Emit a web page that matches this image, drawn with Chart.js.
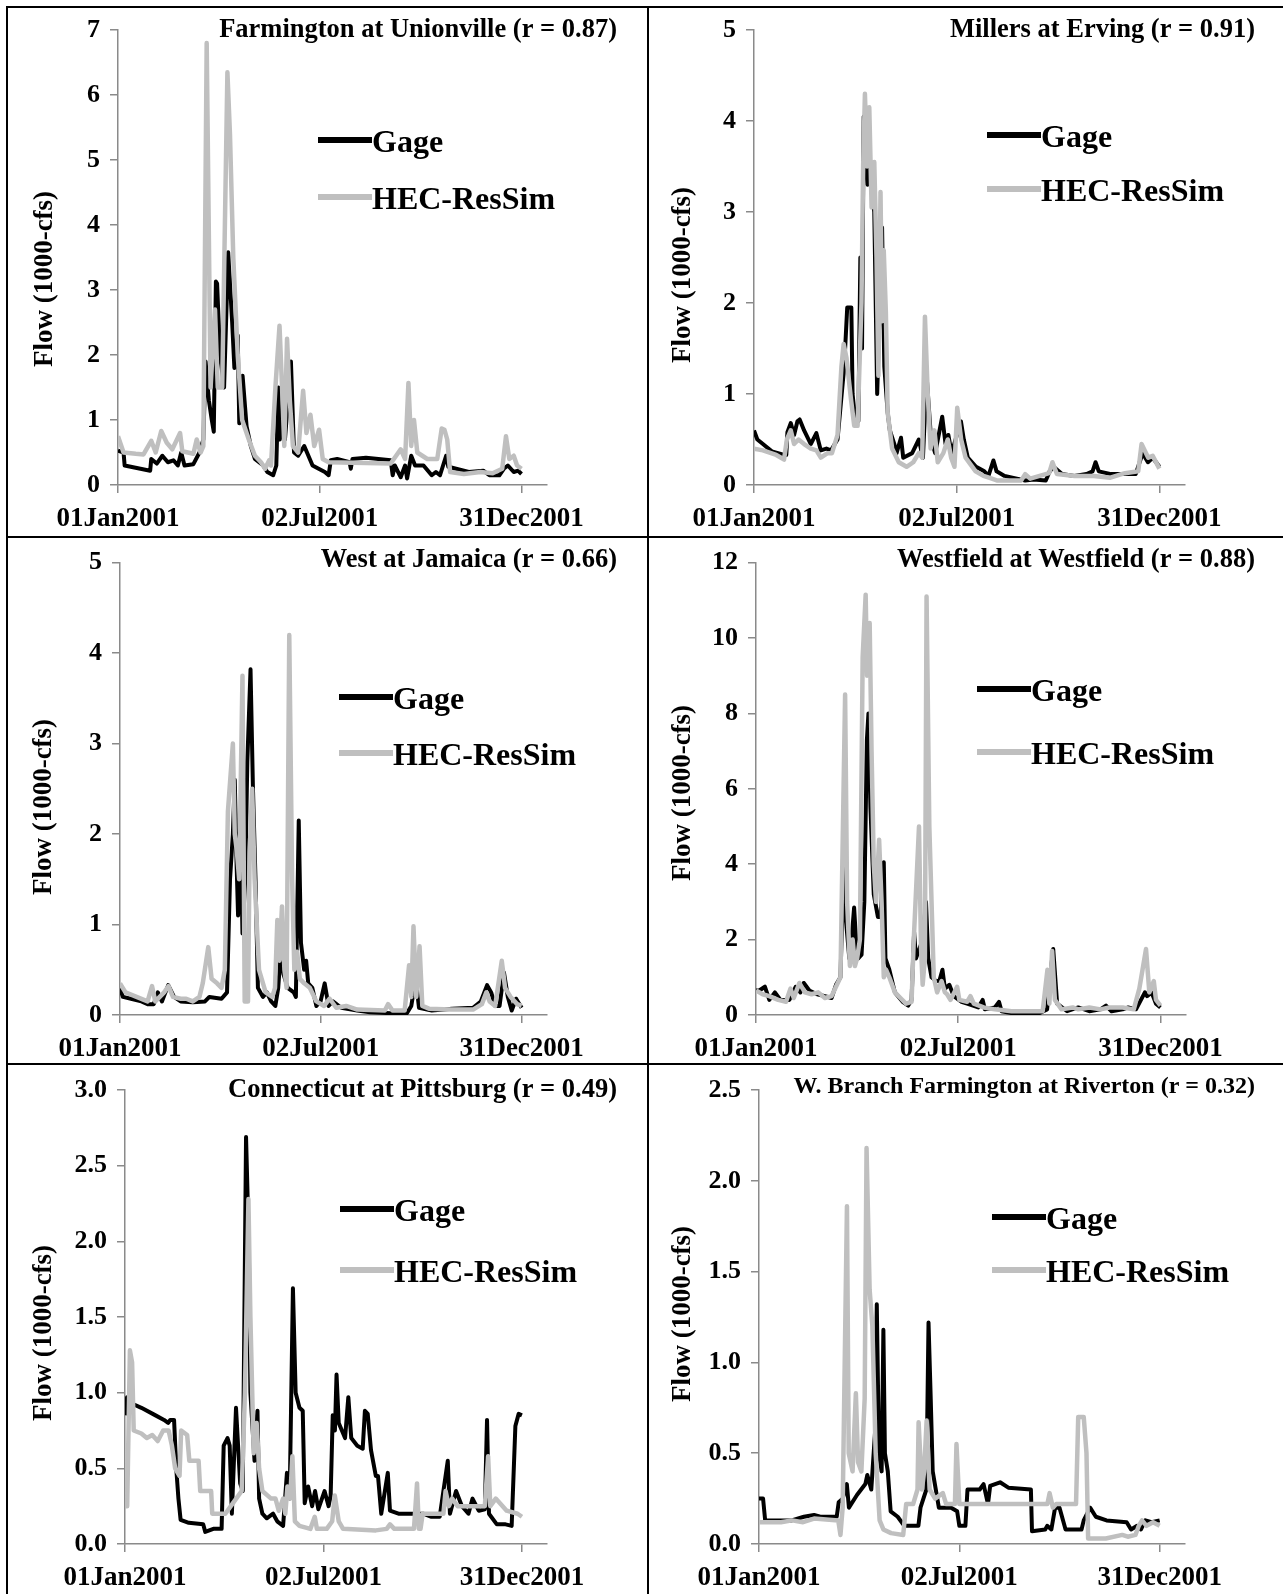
<!DOCTYPE html>
<html><head><meta charset="utf-8">
<script src="https://cdn.jsdelivr.net/npm/chart.js@4/dist/chart.umd.min.js"></script>
<style>
html,body{margin:0;padding:0;background:#fff;}
#wrap{position:relative;width:1283px;height:1594px;overflow:hidden;background:#fff;}
#wrap canvas{position:absolute;}
.ln{position:absolute;background:#000;z-index:5;}
</style></head><body><div id="wrap"></div>
<script>
// ---------- DATA (x = day of year 2001, y = flow in 1000 cfs) ----------
const dateTickDays = [0, 182, 364];
const dateTickLabels = ["01Jan2001", "02Jul2001", "31Dec2001"];
const seriesNames = ["Gage", "HEC-ResSim"];
const panelTitles = [
  "Farmington at Unionville (r = 0.87)",
  "Millers at Erving (r = 0.91)",
  "West at Jamaica (r = 0.66)",
  "Westfield at Westfield (r = 0.88)",
  "Connecticut at Pittsburg (r = 0.49)",
  "W. Branch Farmington at Riverton (r = 0.32)"
];
const yMaxes = [7, 5, 5, 12, 3, 2.5];
const ySteps = [1, 1, 1, 2, 0.5, 0.5];
const yDecimals = [0, 0, 0, 0, 1, 1];

const farmGage = [[0,0.53],[5,0.5],[6,0.3],[29,0.22],[30,0.4],[35,0.33],[40,0.45],[45,0.35],[50,0.38],[54,0.3],[57,0.5],[60,0.3],[68,0.32],[73.5,0.5],[77,0.7],[79,1.9],[82,1.3],[84.6,1.0],[86.4,0.82],[88.3,3.13],[89.4,3.1],[92,2.0],[95.7,1.5],[99.4,3.58],[103,2.5],[105,1.8],[108,2.3],[109.4,0.95],[112.4,1.68],[116,0.9],[119.8,0.6],[123.5,0.4],[131,0.3],[134.7,0.2],[140,0.15],[142.8,0.3],[144.7,1.5],[146,0.7],[148.8,1.0],[150.6,0.7],[156,1.9],[158.8,0.5],[162.5,0.45],[168,0.6],[175.5,0.3],[181,0.25],[186.6,0.2],[190,0.15],[192,0.38],[197.7,0.4],[208.9,0.35],[210,0.25],[211.5,0.4],[223.7,0.42],[246,0.38],[247.8,0.15],[249.7,0.3],[255,0.12],[259,0.3],[260.8,0.1],[264.5,0.45],[268,0.3],[275.6,0.3],[283,0.15],[286.8,0.2],[290.5,0.15],[296,0.45],[298,0.28],[305,0.25],[316.5,0.2],[329.5,0.22],[335,0.15],[344,0.15],[348,0.25],[351.7,0.3],[357,0.2],[361,0.22],[364,0.17]];
const farmSim = [[0,0.75],[5,0.5],[16,0.48],[23,0.47],[30,0.68],[34,0.5],[39,0.83],[44,0.65],[49,0.55],[56,0.8],[58,0.52],[68,0.48],[71,0.7],[74.5,0.5],[77,0.6],[80,6.8],[83.5,1.5],[87.5,2.7],[90,1.5],[94,1.5],[98.7,6.35],[101,5.4],[104,3.5],[108,2.0],[112,1.0],[118,0.7],[123.5,0.45],[129,0.35],[132.7,0.25],[136.4,0.38],[138,0.3],[142,1.5],[145.7,2.45],[148,1.5],[150,0.6],[152.5,2.25],[155,1.3],[157.8,0.6],[162.5,0.5],[167,1.45],[170,0.8],[173.6,1.08],[177,0.6],[181.4,0.85],[184.7,0.4],[190,0.35],[246,0.33],[255,0.55],[259,0.4],[262,1.57],[264.5,0.6],[267,1.0],[270,0.5],[279,0.4],[288,0.4],[292,0.87],[294.5,0.85],[297,0.7],[299.6,0.2],[312,0.17],[327,0.2],[338,0.18],[346.6,0.25],[350,0.75],[353,0.4],[357,0.45],[360,0.3],[364,0.25]];

const millersGage = [[0,0.6],[3,0.5],[8,0.45],[16,0.37],[27,0.33],[29,0.33],[30,0.58],[33,0.68],[36,0.55],[39,0.7],[41,0.72],[45,0.6],[51,0.45],[56,0.57],[60,0.38],[65,0.4],[69,0.38],[75,0.5],[78,0.9],[81,1.3],[83.7,1.95],[87.4,1.95],[88.5,1.0],[91,0.7],[93.7,0.7],[95.5,2.5],[97,1.5],[98.5,4.05],[101,3.5],[102,3.3],[104,3.5],[108,3.0],[110.6,1.0],[112,1.6],[115,2.83],[117,1.3],[120,0.8],[122,0.6],[126,0.45],[128,0.35],[132,0.52],[134,0.3],[142,0.35],[148,0.5],[151.7,0.3],[155,1.2],[159,0.5],[162.7,0.35],[169,0.75],[172,0.45],[174.5,0.55],[177.4,0.35],[185.8,0.7],[188.4,0.5],[192,0.3],[199.4,0.2],[206.8,0.15],[210.5,0.1],[215,0.27],[217.8,0.15],[225,0.1],[236,0.07],[243.5,0.05],[251,0.06],[262,0.05],[265.5,0.15],[269,0.2],[276.6,0.12],[287.6,0.1],[298.6,0.12],[304,0.15],[306.7,0.25],[309.6,0.15],[320.6,0.12],[331.6,0.12],[342.7,0.12],[349,0.35],[353.7,0.25],[358,0.3],[361,0.25],[364,0.2]];
const millersSim = [[0,0.4],[8,0.38],[20,0.33],[27,0.28],[29.5,0.5],[33,0.6],[36,0.45],[40,0.5],[45,0.45],[51,0.4],[56,0.38],[60,0.3],[66,0.35],[70,0.35],[75,0.55],[78.5,1.3],[80.5,1.55],[83,1.4],[87,0.95],[90,0.65],[93,0.65],[96.5,2.0],[98,3.5],[99.6,4.3],[101.6,3.5],[103.5,4.15],[105.6,3.05],[108,3.55],[110,2.5],[111.7,1.2],[113.6,3.22],[115,1.8],[116.5,2.58],[118.4,1.9],[120,0.8],[124,0.4],[130,0.25],[137,0.2],[143,0.25],[148,0.35],[151,0.3],[153.5,1.85],[156,1.0],[158.6,0.4],[162,0.6],[165,0.25],[170,0.35],[174,0.5],[177,0.3],[180,0.2],[182.5,0.85],[186,0.5],[190,0.3],[199,0.15],[206,0.1],[211,0.08],[218,0.05],[240,0.05],[243.5,0.12],[248,0.07],[265,0.13],[268,0.25],[272,0.12],[288,0.1],[305,0.1],[320,0.08],[333,0.13],[345,0.15],[348,0.45],[354,0.3],[358,0.32],[364,0.18]];

const westGage = [[0,0.3],[2.6,0.2],[10,0.18],[19.4,0.15],[25,0.12],[30.6,0.12],[34.3,0.25],[38,0.15],[43.7,0.33],[49,0.2],[55,0.15],[66,0.14],[77,0.15],[81,0.2],[92,0.18],[97,0.25],[99.7,1.5],[102.3,2.0],[104,2.6],[105.6,1.7],[107,1.1],[109,2.2],[111,0.9],[113.5,1.5],[115.4,2.8],[118.3,3.82],[120.5,2.5],[122.8,1.5],[125,0.3],[129.5,0.2],[133,0.25],[137,0.15],[140.8,0.1],[143.4,0.3],[145.7,0.7],[148.2,0.45],[152,0.3],[157.5,0.25],[159.4,0.2],[162,2.15],[164,0.8],[166.9,0.5],[168.7,0.6],[170.6,0.35],[174.3,0.3],[178,0.1],[181.8,0.15],[185.5,0.35],[189,0.1],[193,0.15],[200.5,0.08],[215,0.05],[226.6,0.03],[245,0.02],[260,0.02],[264,0.1],[268,0.4],[271,0.08],[282.6,0.05],[301,0.07],[320,0.08],[327,0.15],[332.7,0.33],[336.4,0.25],[340,0.1],[344,0.1],[348,0.47],[351.5,0.2],[355,0.05],[359,0.18],[364,0.08]];
const westSim = [[0,0.35],[5,0.25],[15,0.2],[25,0.15],[29,0.32],[32,0.15],[40,0.25],[44,0.32],[48,0.2],[55,0.18],[60,0.18],[66,0.15],[72,0.2],[75,0.35],[80,0.75],[83,0.4],[88,0.35],[92,0.3],[95,0.5],[97.8,2.25],[102.3,3.0],[104,2.0],[106,1.8],[108,1.5],[111,3.75],[113,0.15],[116,0.15],[117.5,1.8],[119.8,2.5],[122,1.5],[126,0.5],[132,0.25],[138,0.2],[140.5,0.3],[142.6,1.05],[144.5,0.6],[146.8,1.2],[149,0.5],[151,0.3],[153.4,4.2],[156,1.5],[158,0.5],[160.5,0.7],[163,0.4],[167,0.35],[172,0.3],[178,0.15],[185,0.1],[190,0.18],[196,0.08],[205,0.1],[215,0.06],[240,0.05],[243,0.12],[247,0.05],[258,0.05],[262,0.55],[264,0.2],[266,0.98],[268.5,0.2],[271.5,0.76],[274,0.1],[280,0.07],[300,0.06],[320,0.06],[328,0.12],[332,0.25],[335,0.15],[340,0.1],[346,0.6],[349,0.3],[354,0.2],[360,0.12],[364,0.1]];

const westfieldGage = [[0,0.65],[3,0.65],[8,0.75],[12,0.4],[17,0.6],[22,0.4],[30,0.4],[35.8,0.75],[40,0.6],[43,0.85],[48,0.65],[55,0.55],[62,0.5],[68,0.45],[72,0.8],[76,1.0],[79,4.0],[81,2.5],[84,1.5],[86,2.0],[88.3,2.85],[90,2.0],[92,1.5],[95,1.6],[97.5,3.0],[99.8,7.3],[101.2,8.0],[103,5.5],[106,3.2],[109.7,2.6],[112,2.6],[115,4.05],[116.5,1.5],[120,1.2],[125,0.6],[132,0.35],[137,0.25],[140,0.4],[142.3,2.2],[144,1.5],[150,2.0],[153,3.0],[155,1.5],[158,1.0],[162,0.9],[165,0.9],[167.8,1.2],[170,0.7],[174,0.8],[178,0.5],[185,0.35],[190,0.3],[200,0.2],[204,0.4],[206,0.15],[215,0.2],[218.7,0.35],[221,0.1],[230,0.05],[240,0.05],[255,0.05],[262,0.15],[265,1.1],[267.5,1.75],[271,0.3],[280,0.1],[290,0.2],[300,0.1],[310,0.15],[315,0.25],[320,0.1],[330,0.15],[335,0.2],[342,0.15],[350,0.6],[352,0.5],[356,0.6],[360,0.3],[364,0.2]];
const westfieldSim = [[0,0.65],[6,0.55],[12,0.5],[20,0.4],[27,0.35],[31,0.7],[34,0.45],[39,0.85],[44,0.6],[50,0.55],[56,0.6],[62,0.45],[68,0.5],[72,0.75],[76,1.0],[80.2,8.5],[82,3.0],[84.5,1.3],[87,2.0],[89,1.3],[91,1.5],[93.5,2.0],[96,9.5],[98.7,11.15],[100,9.0],[102.3,10.4],[104,7.0],[106,4.0],[108,3.0],[110.8,4.65],[113,3.0],[115,1.0],[117,1.2],[120,1.0],[125,0.6],[130,0.45],[135,0.3],[140,0.35],[142,2.0],[146.7,5.0],[148.5,1.8],[150,0.8],[152,1.5],[153.5,11.1],[156,5.0],[158.5,2.5],[160,1.0],[163,0.6],[167,0.9],[170,0.6],[172,0.55],[175,0.4],[181,0.75],[183,0.4],[190,0.35],[193,0.5],[196,0.3],[205,0.2],[215,0.15],[230,0.1],[258,0.1],[262.3,1.2],[264,0.3],[266.5,1.7],[269,0.4],[275,0.15],[285,0.2],[290,0.15],[300,0.2],[310,0.15],[318,0.2],[330,0.2],[340,0.15],[345,0.7],[351,1.75],[354,0.6],[358,0.9],[360,0.4],[364,0.25]];

const connGage = [[0,0.85],[1.9,0.97],[5.7,0.93],[15,0.9],[28,0.85],[35.8,0.82],[39.6,0.8],[41.5,0.82],[45,0.82],[47,0.5],[49,0.3],[51,0.16],[58.5,0.14],[71.7,0.13],[73.6,0.08],[81,0.1],[88.6,0.1],[90.5,0.65],[94,0.7],[96,0.65],[98,0.2],[101.8,0.9],[105.6,0.4],[108,0.35],[111,2.69],[113.5,2.0],[115,1.0],[118.8,0.55],[121.5,0.88],[123,0.3],[126,0.2],[130,0.17],[135.8,0.2],[139.6,0.15],[145,0.12],[148.5,0.47],[151,0.3],[154,1.69],[156.5,1.0],[160,0.9],[163,0.88],[164.8,0.27],[167.9,0.38],[171.6,0.25],[174.3,0.35],[177.3,0.23],[183,0.35],[186.7,0.25],[188.6,0.32],[190.5,0.85],[192.5,0.75],[194,1.12],[196,0.8],[201.8,0.7],[204.8,0.97],[207.5,0.7],[213,0.65],[218,0.63],[220,0.88],[222.6,0.86],[225.6,0.62],[230,0.45],[232,0.45],[235,0.2],[241,0.47],[243,0.22],[250.8,0.2],[262,0.2],[273.5,0.2],[281,0.18],[288.6,0.18],[296,0.55],[298,0.2],[303.6,0.35],[309,0.25],[315,0.2],[318.7,0.3],[324.4,0.22],[330,0.23],[332,0.82],[333.8,0.2],[341,0.13],[349,0.13],[354.6,0.12],[358,0.78],[361,0.86],[364,0.85]];
const connSim = [[0,0.25],[2,0.25],[4.5,1.28],[6.5,1.2],[8,0.75],[15,0.73],[20,0.7],[25,0.72],[30,0.68],[35,0.75],[40,0.75],[43,0.65],[46,0.5],[50,0.45],[51.5,0.75],[57,0.72],[59,0.55],[67.5,0.55],[69,0.35],[79,0.35],[80,0.2],[92,0.2],[100,0.28],[107,0.35],[110,1.0],[113.2,2.28],[115,1.5],[118,0.6],[120.7,0.8],[123,0.5],[126,0.35],[134,0.3],[138,0.3],[141,0.22],[145,0.3],[147,0.2],[149,0.38],[151.5,0.3],[153.5,0.58],[155.8,0.15],[160,0.12],[170,0.1],[174,0.18],[176,0.1],[185,0.1],[190,0.15],[192.4,0.32],[196,0.15],[200,0.1],[230,0.09],[240,0.1],[243,0.13],[247,0.1],[265,0.1],[267.8,0.4],[269.5,0.1],[271,0.1],[273,0.2],[285,0.2],[292,0.2],[294,0.35],[297,0.25],[300,0.3],[305,0.25],[315,0.25],[325,0.25],[330,0.25],[333,0.58],[335,0.25],[340,0.3],[350,0.22],[360,0.2],[364,0.18]];

const wbGage = [[0,0.25],[3.7,0.25],[5.6,0.13],[18.6,0.13],[29.7,0.13],[40.8,0.15],[50,0.16],[55.7,0.15],[70.6,0.15],[72.4,0.23],[76,0.25],[79.8,0.33],[81.7,0.2],[89,0.27],[96.6,0.33],[98.4,0.38],[102,0.3],[105.8,0.65],[107,1.32],[109,0.5],[111.4,0.4],[113,1.18],[114.4,0.5],[117,0.4],[119.6,0.18],[126,0.15],[132,0.1],[144.8,0.1],[146.7,0.2],[152,0.3],[154,1.22],[156,0.8],[157.8,0.4],[163.4,0.2],[174.5,0.2],[180,0.18],[182,0.1],[187.5,0.1],[189.4,0.3],[200.5,0.3],[204,0.33],[208,0.22],[210,0.32],[219,0.34],[226.5,0.31],[247,0.3],[248,0.07],[260,0.08],[261.8,0.1],[265.6,0.08],[269,0.2],[273,0.2],[278.5,0.08],[293,0.08],[295,0.13],[300.8,0.2],[306,0.15],[315.7,0.13],[334,0.12],[338,0.08],[343.5,0.1],[347,0.08],[351,0.13],[356.6,0.12],[364,0.13]];
const wbSim = [[0,0.12],[20,0.12],[30,0.13],[40,0.12],[50,0.14],[72,0.13],[74,0.05],[76,0.2],[79.9,1.86],[81.5,0.5],[85,0.4],[88,0.83],[90,0.45],[93,0.4],[96,0.8],[97.7,2.18],[100.5,1.4],[103,1.2],[106,0.5],[109.6,0.13],[113,0.08],[120,0.06],[131,0.05],[133.7,0.22],[140,0.22],[144,0.3],[145,0.67],[148,0.3],[150,0.4],[152.3,0.68],[155,0.3],[160,0.25],[167,0.28],[170,0.22],[178,0.22],[179.4,0.55],[182,0.22],[200,0.22],[262,0.22],[264,0.28],[267,0.2],[270,0.22],[288,0.22],[290,0.7],[295,0.7],[297.5,0.5],[299,0.03],[315,0.03],[330,0.05],[335,0.04],[342,0.05],[345,0.1],[348,0.13],[352,0.1],[358,0.12],[364,0.1]];

const gageSeries = [farmGage, millersGage, westGage, westfieldGage, connGage, wbGage];
const simSeries = [farmSim, millersSim, westSim, westfieldSim, connSim, wbSim];

// ---------- LAYOUT / STYLE (page pixel positions) ----------
const cells = [[0,0,648,537],[648,0,635,537],[0,537,648,527],[648,537,635,527],[0,1064,648,530],[648,1064,635,530]];
const plots = [[118,30,547,485],[754,30,1185,485],[120,560,547,1015],[756,560,1186,1015],[125,1090,547,1544],[759,1090,1185,1544]];
const titlePos = [[617,37,26.5],[1255,37,26.5],[617,567,26.5],[1255,567,26.5],[617,1097,26.5],[1255,1093,24]];
const yTitlePos = [[45,279],[683,275],[44,807],[683,793],[44,1333],[683,1314]];
const legendPos = [[318,140,197],[987,135,189],[339,697,753],[977,689,752],[340,1209,1270],[992,1217,1270]];
const X_MAX = 387;
const FONT = "'Liberation Serif', 'Times New Roman', serif";
const GAGE_COLOR = '#000000';
const SIM_COLOR = '#bfbfbf';
const AXIS_COLOR = '#8a8a8a';

Chart.defaults.font.family = FONT;

const wrap = document.getElementById('wrap');

function toPts(arr){ return arr.map(p => ({x: p[0], y: p[1]})); }

for (let i = 0; i < 6; i++) {
  const [cx, cy, cw, ch] = cells[i];
  const [pl, pt, pr, pb] = plots[i];
  const cv = document.createElement('canvas');
  cv.width = cw; cv.height = ch;
  cv.style.left = cx + 'px'; cv.style.top = cy + 'px';
  cv.style.width = cw + 'px'; cv.style.height = ch + 'px';
  wrap.appendChild(cv);
  const XH = 47;
  const deco = {
    id: 'deco' + i,
    afterDraw(chart) {
      const ctx = chart.ctx;
      ctx.save();
      const [tx, ty, ts] = titlePos[i];
      ctx.fillStyle = '#000';
      ctx.font = 'bold ' + ts + 'px ' + FONT;
      ctx.textAlign = 'right';
      ctx.textBaseline = 'alphabetic';
      ctx.fillText(panelTitles[i], tx - cx, ty - cy);
      const [yx, yy] = yTitlePos[i];
      ctx.save();
      ctx.translate(yx - cx, yy - cy);
      ctx.rotate(-Math.PI / 2);
      ctx.font = 'bold 27px ' + FONT;
      ctx.textAlign = 'center';
      ctx.textBaseline = 'middle';
      ctx.fillText('Flow (1000-cfs)', 0, 0);
      ctx.restore();
      const [lx, ly1, ly2] = legendPos[i];
      const rows = [[ly1, GAGE_COLOR, seriesNames[0]], [ly2, SIM_COLOR, seriesNames[1]]];
      ctx.font = 'bold 32px ' + FONT;
      ctx.textAlign = 'left';
      ctx.textBaseline = 'alphabetic';
      rows.forEach(([ly, col, name]) => {
        ctx.strokeStyle = col;
        ctx.lineWidth = 6;
        ctx.lineCap = 'butt';
        ctx.beginPath();
        ctx.moveTo(lx - cx, ly - cy);
        ctx.lineTo(lx - cx + 54, ly - cy);
        ctx.stroke();
        ctx.fillStyle = '#000';
        ctx.fillText(name, lx - cx + 54, ly - cy + 12);
      });
      ctx.restore();
    }
  };
  new Chart(cv, {
    type: 'line',
    data: {
      datasets: [
        { label: seriesNames[1], data: toPts(simSeries[i]), borderColor: SIM_COLOR, borderWidth: 4.5, pointRadius: 0, tension: 0, order: 0, borderJoinStyle: 'round' },
        { label: seriesNames[0], data: toPts(gageSeries[i]), borderColor: GAGE_COLOR, borderWidth: 4, pointRadius: 0, tension: 0, order: 1, borderJoinStyle: 'round' }
      ]
    },
    options: {
      responsive: false,
      animation: false,
      devicePixelRatio: 1,
      layout: { padding: { left: 0, top: pt - cy, right: (cx + cw) - pr, bottom: Math.max(0, (cy + ch) - pb - XH) } },
      plugins: { legend: { display: false }, tooltip: { enabled: false }, title: { display: false } },
      scales: {
        x: {
          type: 'linear', min: 0, max: X_MAX,
          afterFit(s) { s.height = (cy + ch) - pb - Math.max(0, (cy + ch) - pb - XH); },
          afterBuildTicks(s) { s.ticks = dateTickDays.map(v => ({ value: v })); },
          ticks: {
            autoSkip: false, maxRotation: 0, minRotation: 0, padding: 10, color: '#000',
            font: { family: FONT, size: 27, weight: 'bold' },
            callback: (v) => { const k = dateTickDays.indexOf(v); return k >= 0 ? dateTickLabels[k] : ''; }
          },
          grid: { display: true, drawOnChartArea: false, drawTicks: true, tickLength: 8, color: AXIS_COLOR, lineWidth: 1.5 },
          border: { display: true, color: AXIS_COLOR, width: 1.5 }
        },
        y: {
          type: 'linear', min: 0, max: yMaxes[i],
          afterFit(s) { s.width = pl - cx; },
          ticks: {
            stepSize: ySteps[i], padding: 10, color: '#000',
            font: { family: FONT, size: 26, weight: 'bold' },
            callback: (v) => Number(v).toFixed(yDecimals[i])
          },
          grid: { display: true, drawOnChartArea: false, drawTicks: true, tickLength: 8, color: AXIS_COLOR, lineWidth: 1.5 },
          border: { display: true, color: AXIS_COLOR, width: 1.5 }
        }
      }
    },
    plugins: [deco]
  });
}

const lines = [[6,6,1277,2],[6,6,2,1588],[647,6,2,1588],[6,536,1277,2],[6,1063,1277,2]];
lines.forEach(([l,t,w,h]) => {
  const d = document.createElement('div');
  d.className = 'ln';
  d.style.left = l + 'px'; d.style.top = t + 'px'; d.style.width = w + 'px'; d.style.height = h + 'px';
  wrap.appendChild(d);
});
</script></body></html>
